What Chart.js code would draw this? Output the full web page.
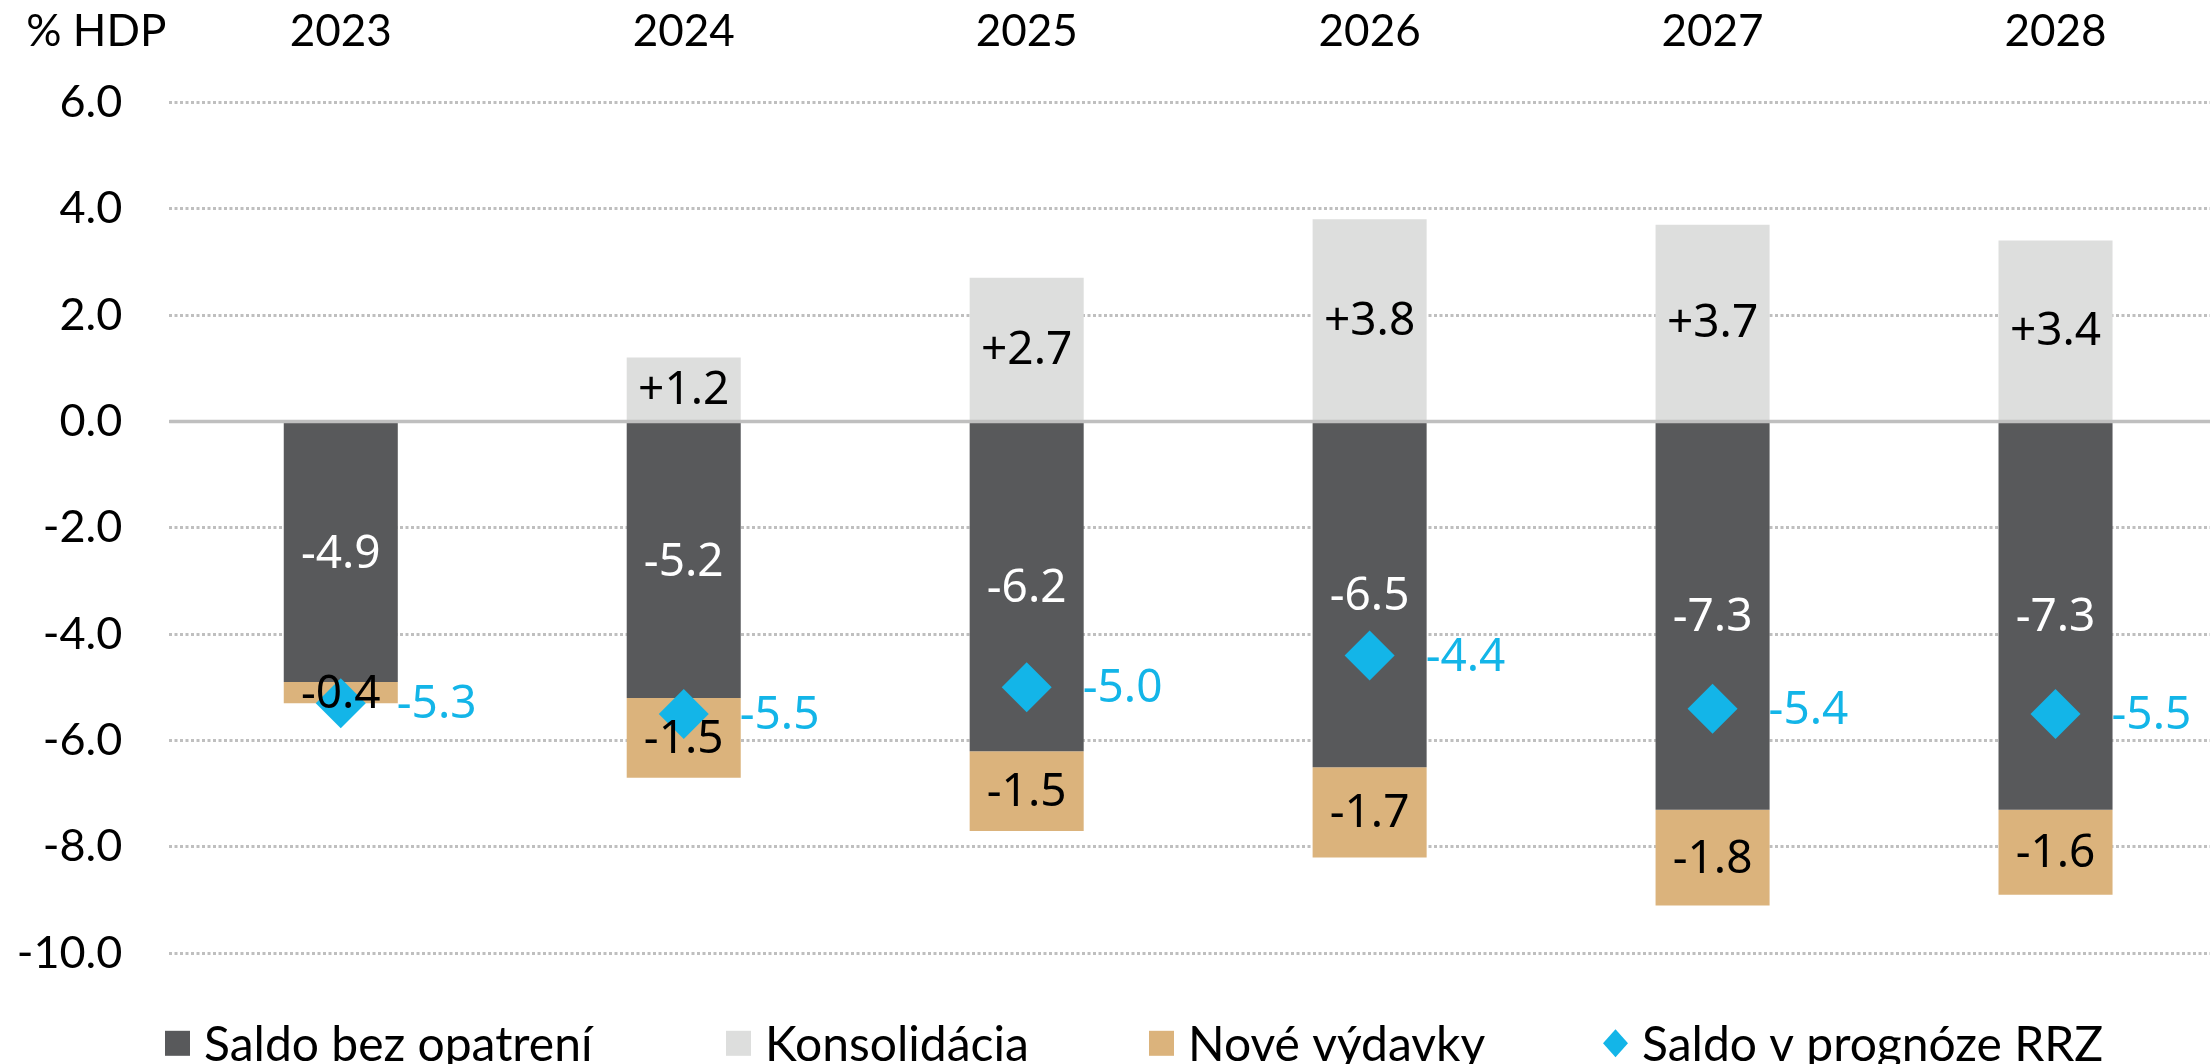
<!DOCTYPE html>
<html>
<head>
<meta charset="utf-8">
<script src="https://cdn.jsdelivr.net/npm/chart.js@4.4.1/dist/chart.umd.min.js"></script>
<style>
  html, body { margin: 0; padding: 0; background: #fff; overflow: hidden; width: 2227px; height: 1064px; }
  #wrap { position: absolute; left: 0; top: 0; width: 2227px; height: 1064px; }
</style>
</head>
<body>
<div id="wrap"><canvas id="chart"></canvas></div>
<script>
// data (% HDP)
var years = ["2023", "2024", "2025", "2026", "2027", "2028"];
var saldoBezOpatreni = [-4.9, -5.2, -6.2, -6.5, -7.3, -7.3];
var konsolidacia = [null, 1.2, 2.7, 3.8, 3.7, 3.4];
var noveVydavky = [-0.4, -1.5, -1.5, -1.7, -1.8, -1.6];
var saldoRRZ = [-5.3, -5.5, -5.0, -4.4, -5.4, -5.5];
var yTicks = [-10, -8, -6, -4, -2, 0, 2, 4, 6];

var DARK = "#58595b";
var LIGHT = "#dddedd";
var TAN = "#dbb37c";
var BLUE = "#13b5e8";
var GRID = "#bfbfbf";
var TICK_FONT = "Lato";
var LABEL_FONT = "'Noto Sans'";
var X_PAD = 44;
var LEGEND_X = [165, 726, 1149, 1603];

// text colour of the value labels, per dataset
var labelColors = ["#ffffff", "#000000", "#000000", BLUE];

// solid zero line drawn over the dotted grid
var zeroLine = {
  id: "zeroLine",
  afterDatasetsDraw(chart) {
    const ctx = chart.ctx;
    const y = chart.scales.y.getPixelForValue(0);
    ctx.save();
    ctx.strokeStyle = GRID;
    ctx.lineWidth = 3.5;
    ctx.beginPath();
    ctx.moveTo(chart.chartArea.left, y);
    ctx.lineTo(chart.chartArea.right, y);
    ctx.stroke();
    ctx.restore();
  }
};

var valueLabels = {
  id: "valueLabels",
  afterDatasetsDraw(chart) {
    const ctx = chart.ctx;
    ctx.save();
    ctx.font = "46px " + LABEL_FONT;
    ctx.textBaseline = "middle";
    chart.data.datasets.forEach((ds, i) => {
      const meta = chart.getDatasetMeta(i);
      meta.data.forEach((el, j) => {
        const v = ds.data[j];
        if (v == null) return;
        const txt = (v > 0 ? "+" : "") + v.toFixed(1);
        ctx.fillStyle = labelColors[i];
        if (ds.type === "line") {
          ctx.textAlign = "left";
          ctx.fillText(txt, el.x + 56, el.y + 2);
        } else {
          const c = el.getCenterPoint();
          ctx.textAlign = "center";
          ctx.fillText(txt, c.x, c.y + 2);
        }
      });
    });
    ctx.restore();
  }
};

// unit label and legend
var extras = {
  id: "extras",
  afterDraw(chart) {
    const ctx = chart.ctx;
    const xs = chart.scales.x;
    ctx.save();
    ctx.fillStyle = "#000";
    ctx.font = "44px " + TICK_FONT;
    ctx.textAlign = "right";
    ctx.textBaseline = "middle";
    ctx.fillText("% HDP", chart.chartArea.left - 3, xs.bottom - X_PAD - 26.4);

    // legend row
    const y = chart.chartArea.bottom + 90;
    ctx.font = "48px " + TICK_FONT;
    ctx.textAlign = "left";
    chart.data.datasets.forEach((ds, i) => {
      let x = LEGEND_X[i];
      ctx.fillStyle = ds.type === "line" ? ds.pointBackgroundColor : ds.backgroundColor;
      if (ds.type === "line") {
        ctx.beginPath();
        ctx.moveTo(x + 12.5, y - 14);
        ctx.lineTo(x + 25, y);
        ctx.lineTo(x + 12.5, y + 14);
        ctx.lineTo(x, y);
        ctx.closePath();
        ctx.fill();
      } else {
        ctx.fillRect(x, y - 12.5, 25, 25);
      }
      ctx.fillStyle = "#000";
      ctx.fillText(ds.label, x + 39, y + 2);
    });
    ctx.restore();
  }
};

new Chart(document.getElementById("chart"), {
  type: "bar",
  data: {
    labels: years,
    datasets: [
      { label: "Saldo bez opatrení", data: saldoBezOpatreni, backgroundColor: DARK },
      { label: "Konsolidácia", data: konsolidacia, backgroundColor: LIGHT },
      { label: "Nové výdavky", data: noveVydavky, backgroundColor: TAN },
      {
        type: "line",
        label: "Saldo v prognóze RRZ",
        data: saldoRRZ,
        stack: "rrz",
        order: -1,
        showLine: false,
        pointStyle: "rectRot",
        pointRadius: 25,
        pointHoverRadius: 25,
        pointBackgroundColor: BLUE,
        pointBorderWidth: 0,
        borderColor: BLUE
      }
    ]
  },
  options: {
    responsive: true,
    maintainAspectRatio: false,
    devicePixelRatio: 1,
    animation: false,
    layout: { autoPadding: false, padding: { left: 0, right: 0, top: 5, bottom: 110.7 } },
    datasets: {
      bar: { barPercentage: 0.3325, categoryPercentage: 1 }
    },
    scales: {
      x: {
        position: "top",
        stacked: true,
        afterFit: (scale) => {
          scale.height = 97.3;
          scale.paddingLeft = 0;
          scale.paddingRight = 0;
        },
        grid: { display: false, drawTicks: false },
        border: { display: false },
        ticks: { color: "#000", padding: X_PAD, font: { family: TICK_FONT, size: 44 } }
      },
      y: {
        stacked: true,
        min: -10,
        max: 6,
        afterBuildTicks: (scale) => { scale.ticks = yTicks.map((v) => ({ value: v })); },
        afterFit: (scale) => { scale.width = 169.3; },
        grid: { color: GRID, lineWidth: 3, drawTicks: false },
        border: { display: false, dash: [3, 2.5] },
        ticks: {
          color: "#000",
          padding: 47,
          font: { family: TICK_FONT, size: 45 },
          callback: (v) => v.toFixed(1)
        }
      }
    },
    plugins: {
      legend: { display: false },
      tooltip: { enabled: false }
    }
  },
  plugins: [zeroLine, valueLabels, extras]
});
</script>
</body>
</html>
